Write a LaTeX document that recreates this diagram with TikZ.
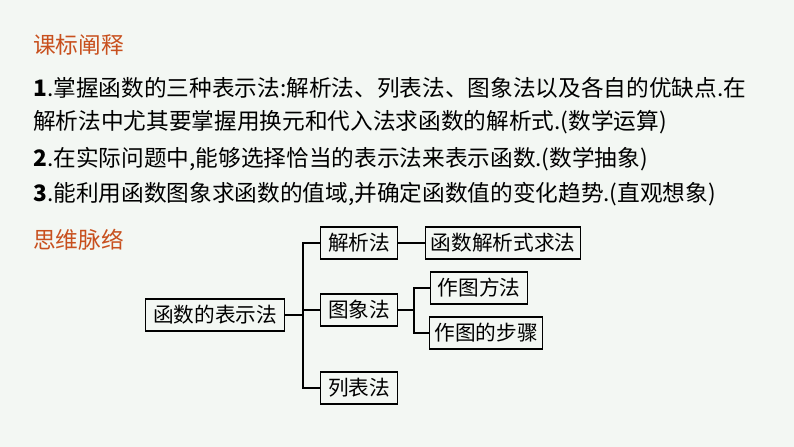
\documentclass[tikz,border=0pt]{standalone}
\usepackage{fontspec}
\newfontfamily\cjk{Noto Sans CJK SC}
\usepackage{xcolor}
\definecolor{bgmint}{RGB}{243,247,243}
\definecolor{titel}{RGB}{200,80,30}
\tikzset{
    kasten/.style={draw, line width=1pt, inner sep=3pt, font=\cjk\fontsize{15.5}{17}\selectfont, minimum height=24pt},
    zeile/.style={anchor=west, inner sep=0pt, font=\cjk\fontsize{17}{19}\selectfont}
}
\begin{document}
\begin{tikzpicture}[x=0.75pt,y=-0.75pt]
    \fill[bgmint] (0,0) rectangle (794,447);
    \useasboundingbox (0,0) rectangle (794,447);
    \node[zeile, text=titel] (t1) at (33,45) {课标阐释};
    \node[zeile] (l1) at (33,88) {\textbf{1}.掌握函数的三种表示法:解析法、列表法、图象法以及各自的优缺点.在};
    \node[zeile] (l2) at (33,122) {解析法中尤其要掌握用换元和代入法求函数的解析式.(数学运算)};
    \node[zeile] (l3) at (33,159) {\textbf{2}.在实际问题中,能够选择恰当的表示法来表示函数.(数学抽象)};
    \node[zeile] (l4) at (33,194) {\textbf{3}.能利用函数图象求函数的值域,并确定函数值的变化趋势.(直观想象)};
    \node[zeile, text=titel] (t2) at (33,240) {思维脉络};
    %
    \node[kasten, minimum width=104pt] (root) at (215,315) {函数的表示法};
    \node[kasten, minimum width=58pt] (jx) at (359,243) {解析法};
    \node[kasten, minimum width=116pt] (jxq) at (503,243) {函数解析式求法};
    \node[kasten, minimum width=73pt] (ff) at (479,288) {作图方法};
    \node[kasten, minimum width=85pt] (bz) at (486,333) {作图的步骤};
    \node[kasten, minimum width=58pt] (tx) at (359,310) {图象法};
    \node[kasten, minimum width=58pt] (lb) at (359,388) {列表法};
    \draw[line width=1pt] (root.east) -- (303,315);
    \draw[line width=1pt] (jx.west) -| (303,315) |- (lb.west);
    \draw[line width=1pt] (tx.west) -- (303,310);
    \draw[line width=1pt] (jx) -- (jxq);
    \draw[line width=1pt] (tx.east) -- (414,310);
    \draw[line width=1pt] (ff.west) -| (414,310) |- (bz.west);
\end{tikzpicture}
\end{document}
